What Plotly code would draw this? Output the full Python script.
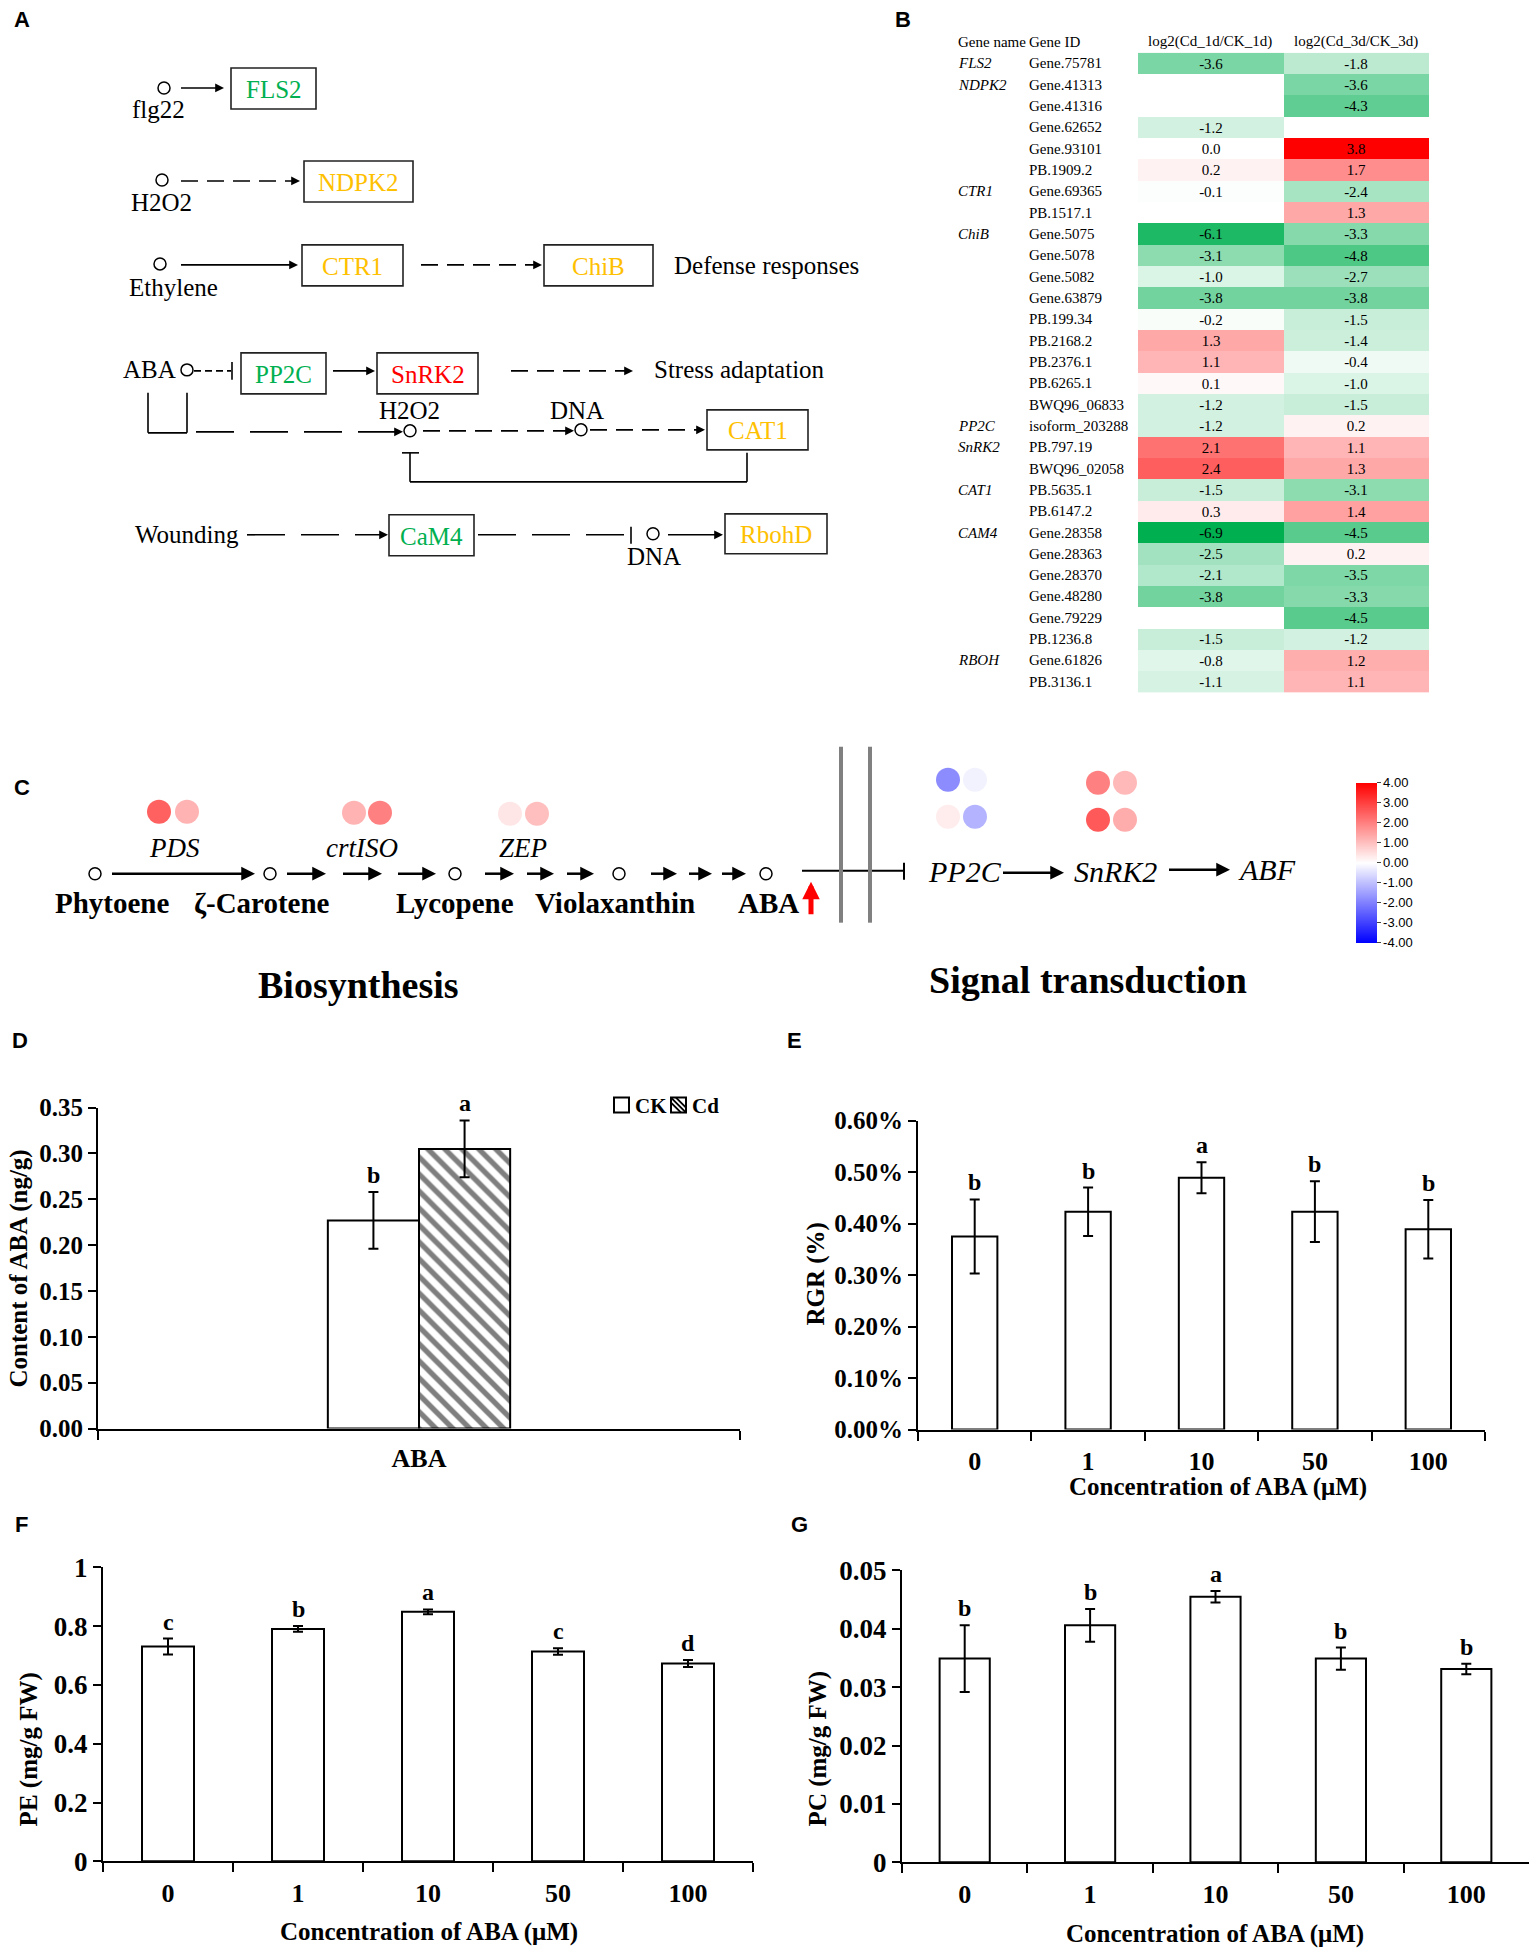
import plotly.graph_objects as go

W, H = 1535, 1955
SERIF = 'Liberation Serif'
SANS = 'Liberation Sans'
GREEN = '#00B050'
ORANGE = '#FFC000'
RED = '#FF0000'

# ---------------- DATA ----------------
# panel B heatmap
gene_names = ['FLS2', 'NDPK2', '', '', '', '', 'CTR1', '', 'ChiB', '', '', '', '', '', '', '', '',
              'PP2C', 'SnRK2', '', 'CAT1', '', 'CAM4', '', '', '', '', '', 'RBOH', '']
gene_ids = ['Gene.75781', 'Gene.41313', 'Gene.41316', 'Gene.62652', 'Gene.93101', 'PB.1909.2',
            'Gene.69365', 'PB.1517.1', 'Gene.5075', 'Gene.5078', 'Gene.5082', 'Gene.63879',
            'PB.199.34', 'PB.2168.2', 'PB.2376.1', 'PB.6265.1', 'BWQ96_06833', 'isoform_203288',
            'PB.797.19', 'BWQ96_02058', 'PB.5635.1', 'PB.6147.2', 'Gene.28358', 'Gene.28363',
            'Gene.28370', 'Gene.48280', 'Gene.79229', 'PB.1236.8', 'Gene.61826', 'PB.3136.1']
log2fc_1d = [-3.6, None, None, -1.2, 0.0, 0.2, -0.1, None, -6.1, -3.1, -1.0, -3.8, -0.2, 1.3, 1.1,
             0.1, -1.2, -1.2, 2.1, 2.4, -1.5, 0.3, -6.9, -2.5, -2.1, -3.8, None, -1.5, -0.8, -1.1]
log2fc_3d = [-1.8, -3.6, -4.3, None, 3.8, 1.7, -2.4, 1.3, -3.3, -4.8, -2.7, -3.8, -1.5, -1.4, -0.4,
             -1.0, -1.5, 0.2, 1.1, 1.3, -3.1, 1.4, -4.5, 0.2, -3.5, -3.3, -4.5, -1.2, 1.2, 1.1]
heat_cols = ['log2(Cd_1d/CK_1d)', 'log2(Cd_3d/CK_3d)']

pds_fc = [2.5, 1.2]
crtiso_fc = [1.2, 2.0]
zep_fc = [0.4, 1.0]
pp2c_fc = [-1.8, -0.2, 0.3, -1.2]
snrk2_fc = [2.0, 1.1, 2.6, 1.3]
cbar_ticks = [4, 3, 2, 1, 0, -1, -2, -3, -4]

# panel D
aba_groups = ['CK', 'Cd']
aba_content = [0.227, 0.305]
aba_err = [0.031, 0.031]
aba_letters = ['b', 'a']

# panels E-G
conc = ['0', '1', '10', '50', '100']
rgr = [0.375, 0.423, 0.489, 0.423, 0.389]
rgr_err = [0.072, 0.047, 0.030, 0.059, 0.057]
rgr_letters = ['b', 'b', 'a', 'b', 'b']
pe = [0.731, 0.791, 0.849, 0.714, 0.673]
pe_err = [0.027, 0.010, 0.008, 0.011, 0.012]
pe_letters = ['c', 'b', 'a', 'c', 'd']
pc = [0.0349, 0.0406, 0.0455, 0.0349, 0.0331]
pc_err = [0.0057, 0.0028, 0.0010, 0.0019, 0.0009]
pc_letters = ['b', 'b', 'a', 'b', 'b']

# the photographed page comes out slightly squeezed vertically; layout values below are
# screen pixels of the target and get mapped back through these two numbers
Y0, SY = 15.0, 0.985


def fy(y):
    return (y - Y0) / SY


def dom_x(a, b):
    return [a / W, b / W]


def dom_y(top, bottom):
    return [1 - fy(bottom) / H, 1 - fy(top) / H]


shapes = []
annots = []


def font(size, color='black', bold=False, italic=False, family=SERIF):
    return dict(family=family, size=size, color=color,
                weight='bold' if bold else 'normal', style='italic' if italic else 'normal')


def label(x, y, text, size=24, color='black', bold=False, italic=False, xanchor='center', family=SERIF):
    annots.append(dict(x=x, y=y, xref='x6', yref='y6', text=text, showarrow=False,
                       xanchor=xanchor, yanchor='middle',
                       font=font(size, color, bold, italic, family)))


def line(x0, y0, x1, y1, dash='solid', w=1.6, color='black'):
    shapes.append(dict(type='line', xref='x6', yref='y6', x0=x0, y0=y0, x1=x1, y1=y1,
                       line=dict(color=color, width=w, dash=dash)))


def head(x, y, dx=1, dy=0, w=1.6, color='black', size=1.1):
    annots.append(dict(x=x, y=y, ax=x - dx * 9, ay=y - dy * 9, xref='x6', yref='y6',
                       axref='x6', ayref='y6', text='', showarrow=True, arrowhead=2,
                       arrowsize=size, arrowwidth=w, arrowcolor=color, standoff=0))


def arrow(x0, y, x1, dash='solid', w=1.6):
    line(x0, y, x1 - 5, y, dash, w)
    head(x1, y, w=w)


def circle(cx, cy, r=6):
    shapes.append(dict(type='circle', xref='x6', yref='y6', x0=cx - r, y0=cy - r, x1=cx + r, y1=cy + r,
                       line=dict(color='black', width=1.5), fillcolor='white'))


def box(x0, y0, x1, y1, text, color):
    shapes.append(dict(type='rect', xref='x6', yref='y6', x0=x0, y0=y0, x1=x1, y1=y1,
                       line=dict(color='#222222', width=1.6), fillcolor='white'))
    label((x0 + x1) / 2, (y0 + y1) / 2 + 1, text, 25, color)


# ---------------- PANEL A: pathway diagram ----------------
SHORT = '17px,9px'
LONG = '38px,16px'
circle(164, 88); arrow(181, 88, 224); label(158, 110, 'flg22', 25)
box(231, 68, 316, 109, 'FLS2', GREEN)
circle(162, 180); arrow(181, 181, 300, SHORT); label(161, 203, 'H2O2', 25)
box(304, 161, 413, 202, 'NDPK2', ORANGE)
circle(160, 264); arrow(181, 265, 298); label(173, 288, 'Ethylene', 25)
box(302, 245, 403, 286, 'CTR1', ORANGE)
arrow(421, 265, 542, SHORT)
box(544, 245, 653, 286, 'ChiB', ORANGE)
label(672, 266, 'Defense responses', 25, xanchor='left')

label(149, 370, 'ABA', 25); circle(187, 370)
line(194, 371, 231, 371, '7px,4px'); line(232, 362, 232, 380)
box(241, 353, 326, 394, 'PP2C', GREEN)
arrow(333, 371, 375)
box(377, 353, 478, 394, 'SnRK2', RED)
arrow(511, 371, 633, SHORT)
label(652, 370, 'Stress adaptation', 25, xanchor='left')
line(148, 393, 148, 433); line(148, 433, 187, 433); line(187, 433, 187, 393)
arrow(196, 432, 403, LONG)
circle(410, 431); label(409, 411, 'H2O2', 25)
arrow(423, 431, 574, SHORT)
circle(581, 430); label(577, 411, 'DNA', 25)
arrow(590, 430, 705, SHORT)
box(707, 410, 808, 450, 'CAT1', ORANGE)
line(747, 453, 747, 482); line(747, 482, 410, 482); line(410, 482, 410, 453); line(402, 453, 419, 453)

label(187, 535, 'Wounding', 25)
arrow(247, 535, 388, LONG)
box(389, 515, 474, 556, 'CaM4', GREEN)
line(478, 535, 631, 535, LONG); line(631, 527, 631, 544)
circle(653, 534); label(654, 557, 'DNA', 25)
arrow(668, 535, 723)
box(725, 514, 827, 554, 'RbohD', ORANGE)

# ---------------- PANEL C: ABA pathway ----------------
for cx in [95, 270, 455, 619, 766]:
    circle(cx, 874)
arrow(112, 874, 255, w=2.5)
for x0, x1 in [(287, 326), (343, 382), (398, 436), (485, 514), (527, 554), (567, 594),
               (651, 677), (689, 712), (722, 746)]:
    arrow(x0, 874, x1, w=2.5)
for cx, txt in [(112, 'Phytoene'), (262, 'ζ-Carotene'), (455, 'Lycopene'),
                (615, 'Violaxanthin'), (768, 'ABA')]:
    label(cx, 903, txt, 29, bold=True)
annots.append(dict(x=811, y=882, ax=811, ay=916, xref='x6', yref='y6', axref='x6', ayref='y6',
                   text='', showarrow=True, arrowhead=2, arrowsize=0.7, arrowwidth=5,
                   arrowcolor=RED, standoff=0))
line(802, 871, 904, 871, w=2)
line(904, 863, 904, 880, w=2)
line(841, 747, 841, 923, w=4, color='#808080')
line(870, 747, 870, 923, w=4, color='#808080')
label(174, 848, 'PDS', 27, italic=True)
label(362, 848, 'crtISO', 27, italic=True)
label(523, 848, 'ZEP', 27, italic=True)
label(965, 872, 'PP2C', 30, italic=True)
label(1115, 872, 'SnRK2', 30, italic=True)
label(1267, 870, 'ABF', 30, italic=True)
arrow(1003, 873, 1064, w=2.5)
arrow(1169, 870, 1230, w=2.5)
label(358, 985, 'Biosynthesis', 38, bold=True)
label(1088, 980, 'Signal transduction', 38, bold=True)

dot_x = [159, 187, 354, 380, 510, 537, 948, 975, 948, 975, 1098, 1125, 1098, 1125]
dot_y = [812, 812, 813, 813, 814, 814, 780, 780, 817, 817, 783, 783, 820, 820]
dot_vals = pds_fc + crtiso_fc + zep_fc + pp2c_fc + snrk2_fc

# ---------------- panel letters ----------------
for x, y, t in [(12, 19, 'A'), (893, 19, 'B'), (12, 788, 'C'), (10, 1041, 'D'), (785, 1041, 'E'),
                (13, 1525, 'F'), (789, 1525, 'G')]:
    label(x, y, t, 22, bold=True, xanchor='left', family=SANS)

fig = go.Figure()

# ---------------- PANEL B: heatmap ----------------
z = [[a, b] for a, b in zip(log2fc_1d, log2fc_3d)]
txt = [['' if v is None else f'{v:.1f}' for v in row] for row in z]
zmin, zmax = -6.9, 3.8
fig.add_trace(go.Heatmap(
    z=z, x=[0, 1], y=list(range(len(gene_ids))), text=txt, texttemplate='%{text}',
    textfont=dict(family=SERIF, size=15, color='black'),
    colorscale=[[0, GREEN], [-zmin / (zmax - zmin), '#FFFFFF'], [1, RED]],
    zmin=zmin, zmax=zmax, showscale=False, hoverongaps=False, xaxis='x', yaxis='y'))
for i, (gn, gid) in enumerate(zip(gene_names, gene_ids)):
    if gn:
        annots.append(dict(x=956 / W, y=i, xref='paper', yref='y', text=gn, showarrow=False,
                           xanchor='left', font=font(15, italic=True)))
    annots.append(dict(x=1027 / W, y=i, xref='paper', yref='y', text=gid, showarrow=False,
                       xanchor='left', font=font(15)))
label(956, 42, 'Gene name', 15, xanchor='left')
label(1027, 42, 'Gene ID', 15, xanchor='left')
label(1210, 42, heat_cols[0], 15)
label(1356, 42, heat_cols[1], 15)

# ---------------- PANEL C dots + colorbar ----------------
fig.add_trace(go.Scatter(
    x=dot_x, y=dot_y, mode='markers', xaxis='x6', yaxis='y6', showlegend=False, hoverinfo='skip',
    marker=dict(size=24, color=dot_vals, cmin=-4, cmax=4,
                colorscale=[[0, '#0000FF'], [0.5, '#FFFFFF'], [1, '#FF0000']],
                line=dict(width=0), showscale=True,
                colorbar=dict(x=1356 / W, xanchor='left', xpad=0, y=1 - fy(863) / H, yanchor='middle',
                              ypad=0, len=160 / SY / H, lenmode='fraction', thickness=21,
                              thicknessmode='pixels', outlinewidth=0, ticks='outside', ticklen=4,
                              tickvals=cbar_ticks, ticktext=[f'{v:.2f}' for v in cbar_ticks],
                              tickfont=dict(family=SANS, size=13, color='black')))))

# ---------------- PANEL D ----------------
bw = 0.142
hatch = dict(shape='\\', fgcolor='black', bgcolor='white', size=12, solidity=0.45)
fig.add_trace(go.Bar(x=['ABA'], y=[aba_content[0]], name=aba_groups[0], offset=-bw, width=bw,
                     showlegend=False,
                     marker=dict(color='white', line=dict(color='black', width=2)),
                     error_y=dict(type='data', array=[aba_err[0]], color='black', thickness=2, width=5),
                     xaxis='x2', yaxis='y2'))
fig.add_trace(go.Bar(x=['ABA'], y=[aba_content[1]], name=aba_groups[1], offset=0, width=bw,
                     showlegend=False,
                     marker=dict(color='white', line=dict(color='black', width=2), pattern=hatch),
                     error_y=dict(type='data', array=[aba_err[1]], color='black', thickness=2, width=5),
                     xaxis='x2', yaxis='y2'))
for k, (v, e, t) in enumerate(zip(aba_content, aba_err, aba_letters)):
    annots.append(dict(x=(k - 0.5) * bw, y=v + e, xref='x2', yref='y2', text=t, showarrow=False,
                       yanchor='bottom', yshift=2, font=font(24, bold=True)))
# legend key of panel D
shapes.append(dict(type='rect', xref='x6', yref='y6', x0=614, y0=1098, x1=629, y1=1113,
                   line=dict(color='black', width=2), fillcolor='white'))
shapes.append(dict(type='rect', xref='x6', yref='y6', x0=671, y0=1098, x1=686, y1=1113,
                   line=dict(color='black', width=2), fillcolor='white'))
for d in [-5, 0, 5]:
    line(max(671, 671 + d), max(1098, 1098 - d), min(686, 686 + d), min(1113, 1113 - d), w=2)
label(633, 1106, aba_groups[0], 21, bold=True, xanchor='left')
label(690, 1106, aba_groups[1], 21, bold=True, xanchor='left')


# ---------------- PANELS E-G ----------------
def add_bars(xa, ya, vals, errs, letters):
    fig.add_trace(go.Bar(x=conc, y=vals, width=0.4, showlegend=False,
                         marker=dict(color='white', line=dict(color='black', width=2)),
                         error_y=dict(type='data', array=errs, color='black', thickness=2, width=5),
                         xaxis=xa, yaxis=ya))
    for k, (v, e, t) in enumerate(zip(vals, errs, letters)):
        annots.append(dict(x=k, y=v + e, xref=xa, yref=ya, text=t, showarrow=False,
                           yanchor='bottom', yshift=2, font=font(24, bold=True)))


add_bars('x3', 'y3', rgr, rgr_err, rgr_letters)
add_bars('x4', 'y4', pe, pe_err, pe_letters)
add_bars('x5', 'y5', pc, pc_err, pc_letters)

# axis titles
for x, y, t, ang in [(19, 1269, 'Content of ABA (ng/g)', -90), (816, 1275, 'RGR (%)', -90),
                     (1218, 1488, 'Concentration of ABA (μM)', 0), (29, 1750, 'PE (mg/g FW)', -90),
                     (429, 1933, 'Concentration of ABA (μM)', 0), (818, 1749, 'PC (mg/g FW)', -90),
                     (1215, 1935, 'Concentration of ABA (μM)', 0)]:
    annots.append(dict(x=x, y=y, xref='x6', yref='y6', text=t, showarrow=False, textangle=ang,
                       xanchor='center', yanchor='middle', font=font(25, bold=True)))

tick_font = dict(family=SERIF, size=25, color='black', weight='bold')
ax_common = dict(showline=True, linecolor='black', linewidth=2, ticks='outside', tickcolor='black',
                 tickwidth=2, ticklen=8, showgrid=False, zeroline=False, tickfont=tick_font,
                 fixedrange=True)
xcat = dict(ax_common, tickson='boundaries', ticklen=9, ticklabelstandoff=7,
            tickfont=dict(tick_font, size=26))
hidden = dict(visible=False, fixedrange=True, showgrid=False, zeroline=False)

fig.update_layout(
    width=W, height=H, margin=dict(l=0, r=0, t=0, b=0), showlegend=False,
    paper_bgcolor='white', plot_bgcolor='rgba(0,0,0,0)', barmode='overlay',
    xaxis=dict(hidden, domain=dom_x(1138, 1429), range=[-0.5, 1.5], anchor='y'),
    yaxis=dict(hidden, domain=dom_y(52.7, 692.7), range=[len(gene_ids) - 0.5, -0.5], anchor='x'),
    xaxis2=dict(xcat, domain=dom_x(98, 740), range=[-0.5, 0.5], anchor='y2', ticklabelstandoff=5),
    yaxis2=dict(ax_common, domain=dom_y(1108, 1429), range=[0, 0.35], dtick=0.05, tickformat='.2f',
                anchor='x2', tickfont=dict(tick_font, size=25)),
    xaxis3=dict(xcat, domain=dom_x(918, 1485), range=[-0.5, 4.5], anchor='y3'),
    yaxis3=dict(ax_common, domain=dom_y(1121, 1430), range=[0, 0.6], dtick=0.1, tickformat='.2f',
                ticksuffix='%', anchor='x3', tickfont=dict(tick_font, size=25)),
    xaxis4=dict(xcat, domain=dom_x(103, 753), range=[-0.5, 4.5], anchor='y4'),
    yaxis4=dict(ax_common, domain=dom_y(1568, 1862), range=[0, 1], dtick=0.2, anchor='x4',
                tickfont=dict(tick_font, size=27)),
    xaxis5=dict(xcat, domain=dom_x(902, 1529), range=[-0.5, 4.5], anchor='y5'),
    yaxis5=dict(ax_common, domain=dom_y(1571, 1863), range=[0, 0.05], dtick=0.01, anchor='x5',
                tickfont=dict(tick_font, size=27)),
    xaxis6=dict(hidden, domain=[0, 1], range=[0, W], anchor='y6'),
    yaxis6=dict(hidden, domain=[0, 1], range=[Y0 + SY * H, Y0], anchor='x6'),
    shapes=shapes, annotations=annots,
)

# page body margin off so the figure sits at the window origin
fig.write_html('out.html', config={'displayModeBar': False},
               post_script="document.body.style.margin='0';")
